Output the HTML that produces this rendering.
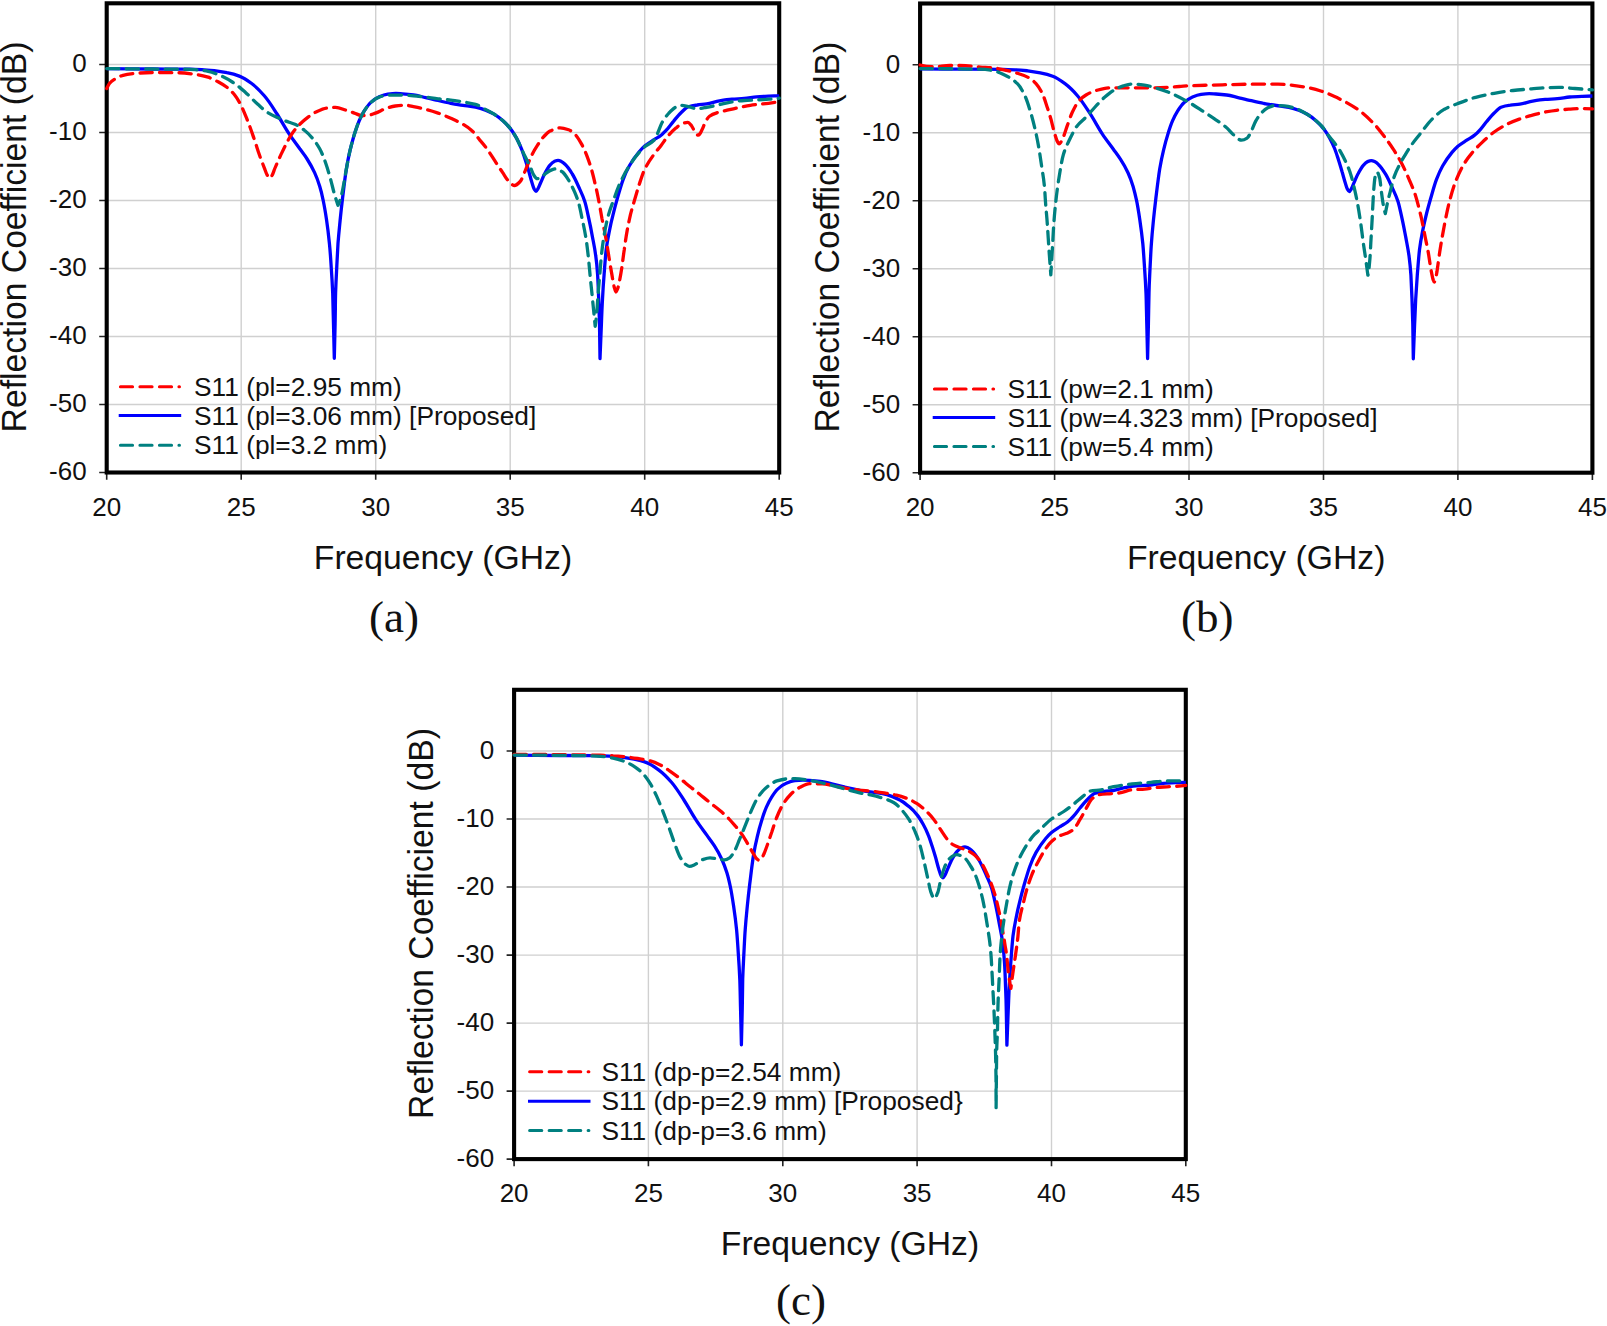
<!DOCTYPE html>
<html lang="en">
<head>
<meta charset="utf-8">
<title>Reflection coefficient parametric study</title>
<style>
html,body{margin:0;padding:0;background:#fff;}
body{width:1607px;height:1326px;overflow:hidden;}
svg{display:block;}
svg text{font-family:"Liberation Sans",sans-serif;fill:#111;}
svg text.cap{font-family:"Liberation Serif",serif;}
</style>
</head>
<body>
<svg width="1607" height="1326" viewBox="0 0 1607 1326">
<rect width="1607" height="1326" fill="#fff"/>
<g>
<path d="M241.2 3.3V472.5M375.7 3.3V472.5M510.2 3.3V472.5M644.7 3.3V472.5M106.7 64.5H779.2M106.7 132.5H779.2M106.7 200.5H779.2M106.7 268.5H779.2M106.7 336.5H779.2M106.7 404.5H779.2" stroke="#d0d0d0" stroke-width="1.4" fill="none"/>
<path d="M106.7 472.5V479.7M241.2 472.5V479.7M375.7 472.5V479.7M510.2 472.5V479.7M644.7 472.5V479.7M779.2 472.5V479.7M99.2 64.5H106.7M99.2 132.5H106.7M99.2 200.5H106.7M99.2 268.5H106.7M99.2 336.5H106.7M99.2 404.5H106.7M99.2 472.5H106.7" stroke="#222" stroke-width="1.6" fill="none"/>
<rect x="106.7" y="3.3" width="672.5" height="469.2" fill="none" stroke="#000" stroke-width="4.1"/>
<clipPath id="clipa"><rect x="104.7" y="1.2" width="676.6" height="473.3"/></clipPath>
<g clip-path="url(#clipa)" fill="none" stroke-width="3.3" stroke-linejoin="round">
<path d="M106.7 68.6C121.9 68.8 137.2 68.9 152.4 69C164.8 69.1 177.2 69 189.6 69.1C193.7 69.2 197.8 69.4 201.9 69.6C206.1 69.8 210.2 70.2 214.3 70.6C218.5 71.1 222.7 71.8 226.9 72.7C231.1 73.5 235.2 74.5 239.3 76.1C243.4 77.6 247.6 80.5 251.7 83.5C255.9 86.7 260.1 90.9 264.3 95.8C268.5 100.5 272.6 107.1 276.7 113.5C280.8 119.8 285 127.7 289.1 133.9C292.7 139.3 296.3 143.8 299.8 148.8C302.3 152.2 304.7 155.2 307.1 159C309.6 163 312.1 167.2 314.6 172.6C316.3 176.3 318 180.7 319.7 186.2C320.9 190 322.1 194.9 323.2 200.5C324.3 205.7 325.4 212.2 326.5 219.5C327.5 226.3 328.4 233.2 329.4 243.3C330.1 249.8 330.7 258.7 331.3 268.5C331.8 275.5 332.2 281.5 332.7 293C332.9 299.8 333.2 313.4 333.5 324.3C333.7 335.1 334 346.5 334.3 358.3C334.5 349.5 334.8 337.5 335.1 324.3C335.3 315.4 335.4 299.1 335.6 293C336 280.7 336.3 275.9 336.7 268.5C337.1 259.3 337.6 249.7 338 243.3C338.8 233.2 339.5 226.7 340.2 219.5C341 211.5 341.8 204.5 342.6 197.8C343.9 187.3 345.1 176.4 346.4 168.9C347.6 161.3 348.9 155.5 350.1 150.2C351.6 144.1 353 138.8 354.4 134.2C356.1 129 357.7 124.2 359.3 120.5C361 116.6 362.7 113.4 364.4 110.7C366.5 107.5 368.5 104.5 370.6 102.6C373.5 100 376.3 97.9 379.2 96.7C382.1 95.5 384.9 94.5 387.8 94.1C390.5 93.8 393.2 93.5 395.9 93.5C398.1 93.5 400.4 93.7 402.6 93.8C406.2 94 409.8 94.3 413.4 94.8C417.5 95.3 421.6 96.7 425.7 97.6C429.9 98.6 434 99.6 438.1 100.5C442.3 101.5 446.5 102.5 450.8 103.3C454.9 104 459 104.7 463.1 105.3C467.2 105.9 471.4 106.3 475.5 107.1C478.8 107.8 482.1 108.8 485.5 110.1C488.3 111.1 491.2 112.5 494.1 114.1C496.9 115.8 499.8 118 502.7 120.5C505.2 122.7 507.7 125.3 510.2 128.4C512.3 131 514.3 134.2 516.4 137.9C518.1 141 519.8 144.6 521.5 148.8C522.7 151.7 523.8 155.4 525 159C526.3 162.9 527.5 167 528.8 171.3C529.8 174.9 530.9 179.4 532 182.8C532.7 185.1 533.4 187.7 534.1 188.9C534.8 190 535.4 191.3 536 191.3C536.7 191.3 537.3 189.9 537.9 188.9C538.7 187.6 539.5 185.3 540.3 183.5C541.9 180.1 543.4 176.1 544.9 173.3C546.6 170.1 548.3 167 550 165.1C551.4 163.5 552.9 162 554.3 161.4C555.6 160.9 556.8 160.4 558.1 160.4C559.2 160.4 560.2 160.9 561.3 161.4C562.7 162 564 163.2 565.3 164.5C567.7 166.7 570 170.2 572.3 174C574.8 177.9 577.2 183.6 579.6 188.9C581.3 192.7 583 195.9 584.7 201.2C586.1 205.3 587.4 212 588.7 218.2C590 224 591.3 230.5 592.5 237.2C593.6 243 594.7 247.5 595.7 255.6C596.4 260.3 597 265.5 597.6 274.6C598 279.8 598.3 289.6 598.7 299.1C599 306.2 599.2 312.7 599.5 324.3C599.7 331.9 599.9 344.8 600 358.6C600.5 346.6 600.9 335.2 601.4 324.3C601.7 315.5 602.1 305.8 602.5 299.1C603 289.1 603.5 281.8 604.1 274.6C604.8 265.1 605.5 255.2 606.2 249.5C607.3 240.8 608.4 235.9 609.5 230.4C610.6 224.5 611.8 219.5 613 214.8C614.5 208.6 616 203.1 617.5 197.8C619.4 191.2 621.3 184.4 623.2 179.4C625.2 174 627.3 169.5 629.4 165.8C632.5 160.3 635.6 156 638.8 152.2C640.8 149.9 642.7 147.8 644.7 146.1C647.7 143.6 650.6 141.9 653.6 140C656.1 138.3 658.6 137.2 661.1 135.2C663.2 133.6 665.2 131.4 667.3 129.1C669.4 126.8 671.4 123.7 673.5 121.3C676 118.3 678.5 115.2 681 112.8C683.3 110.6 685.5 107.8 687.7 107C690.9 105.9 694 105.4 697.2 105C700.3 104.5 703.4 104.4 706.6 103.9C710.9 103.3 715.2 101.6 719.5 100.9C723.6 100.2 727.7 99.5 731.9 99.2C736 98.9 740.1 98.8 744.2 98.5C748.4 98.2 752.5 97.1 756.6 96.8C760.7 96.5 764.9 96.3 769 96.1C772.4 96 775.8 95.9 779.2 95.8" stroke="#00f"/>
<path d="M106.7 88.6C107.7 86.5 108.7 84.3 109.7 83.2C111.4 81.2 113.1 80.2 114.8 79.1C117.2 77.7 119.6 76.3 122 75.7C125.9 74.6 129.7 73.9 133.6 73.5C139.8 73 146 72.5 152.2 72.5C160.3 72.5 168.5 72.6 176.6 72.7C182.9 72.7 189.2 73.5 195.5 74.4C199.7 74.9 203.9 75.9 208.1 77.2C211.4 78.2 214.7 80.1 218.1 81.8C221 83.4 224 85.1 226.9 87.3C229.5 89.3 232 91.7 234.5 94.8C236.5 97.3 238.6 100.7 240.7 104.6C242.6 108.3 244.6 113.3 246.6 118.2C248.7 123.5 250.9 129.4 253 135.6C255.1 141.4 257.2 148.4 259.2 154.3C260.9 159.1 262.6 163.5 264.3 167.9C265.3 170.4 266.3 173.8 267.3 175.3C268.1 176.6 268.9 178.1 269.7 178.1C270.5 178.1 271.3 176.6 272.1 175.3C273 174 273.9 170.7 274.8 168.5C276.7 164 278.6 159.7 280.5 155.6C282.4 151.6 284.2 147.6 286.1 144.1C288.2 140.2 290.2 136.1 292.3 133.2C294.8 129.6 297.3 126.9 299.8 124.3C302.7 121.5 305.6 119 308.4 116.9C311.3 114.8 314.2 112.7 317.1 111.4C320.4 109.9 323.7 108.4 327 108C329.9 107.7 332.7 107.3 335.6 107.3C338.9 107.3 342.3 109 345.6 110.1C348.5 111 351.5 112.1 354.4 113.1C356.9 113.9 359.3 115.5 361.7 115.5C363.4 115.5 365.1 115.5 366.8 115.5C369.7 115.5 372.6 114.1 375.4 113.1C378.7 112 382.1 109.8 385.4 108.7C388.7 107.6 392 106.3 395.3 106C399 105.6 402.7 105.3 406.4 105.3C408.7 105.3 411 106.2 413.4 106.7C417.5 107.5 421.6 108.3 425.7 109.4C429.9 110.4 434 111.7 438.1 113.1C442.3 114.6 446.5 116.3 450.8 118.2C454.9 120.1 459 121.9 463.1 124.3C466 126 468.9 127.9 471.7 130.5C474.6 133 477.5 137.1 480.3 140.7C482.9 143.7 485.4 146.7 487.9 150.2C490.4 153.7 492.9 157.9 495.4 161.7C497.8 165.4 500.2 169.1 502.7 172.6C504.7 175.6 506.8 179.5 508.9 181.5C510.7 183.3 512.6 185.5 514.5 185.5C516.4 185.5 518.3 183.5 520.2 181.5C521.8 179.7 523.4 174.9 525 171.3C527.1 166.6 529.1 160.5 531.2 156.3C533.2 152.1 535.3 148.6 537.4 145.4C539.5 142.1 541.7 138.9 543.8 136.6C545.9 134.4 547.9 132.1 550 131.1C553.3 129.5 556.6 127.9 560 127.9C562.8 127.9 565.7 128.8 568.6 129.8C571 130.6 573.4 132.7 575.8 135.2C578 137.4 580.1 141.4 582.3 145.4C583.9 148.4 585.5 152.1 587.1 156.3C588.7 160.5 590.4 165.6 592 171.3C593.4 176.3 594.8 182.6 596.3 188.9C597.1 192.5 597.9 196.4 598.7 200.5C599.8 206 600.9 212.5 601.9 218.2C603.2 224.8 604.4 230.2 605.7 237.2C606.7 242.7 607.7 249.6 608.7 255.6C609.7 262.1 610.8 268.6 611.9 274.6C612.6 278.6 613.3 283.4 614 286.2C614.7 288.6 615.3 292 615.9 292C616.5 292 617.2 289.9 617.8 288.2C618.3 286.8 618.9 284 619.4 281.4C620.2 277.6 621 273 621.8 267.8C622.6 262.6 623.4 255.1 624.3 249.5C625.2 242.6 626.2 235.9 627.2 230.4C628.3 224.5 629.4 219.2 630.4 214.8C631.9 208.9 633.3 204.4 634.7 199.5C636.3 194.2 637.8 188.8 639.3 184.2C641.1 178.7 642.9 173 644.7 169.2C647.7 163.1 650.6 159.1 653.6 154.9C656.1 151.4 658.6 148.7 661.1 145.4C663.6 142.1 666.1 138.1 668.6 135.2C671.1 132.5 673.5 130.1 675.9 128.1C678 126.4 680 124.4 682.1 123.7C684 123 685.9 122.3 687.7 122.3C689 122.3 690.3 124.2 691.5 125.7C692.5 126.9 693.5 129.6 694.5 131.1C695.3 132.4 696.1 134 696.9 134.5C697.3 134.9 697.8 135.2 698.2 135.2C698.8 135.2 699.3 134.5 699.8 133.9C700.6 133 701.3 131.2 702 129.8C703.3 127.2 704.5 123.4 705.8 121.3C707 119.2 708.3 117.1 709.5 116.2C711.9 114.4 714.4 113.5 716.8 112.8C719.7 111.9 722.5 111.4 725.4 110.7C729.6 109.7 733.8 108.6 738 107.7C742.2 106.8 746.3 105.9 750.4 105.3C754.5 104.7 758.7 104.5 762.8 103.9C768.3 103.3 773.7 102.5 779.2 101.6" stroke="#f00" stroke-dasharray="12.2 7.3" stroke-linecap="round"/>
<path d="M106.7 68.6C121.9 68.7 137.2 68.9 152.4 69C164.8 69.1 177.2 69.1 189.6 69.3C192.4 69.3 195.3 69.7 198.2 69.9C201.5 70.3 204.8 70.7 208.1 71.3C212.3 72.1 216.5 73.9 220.8 75.7C224.9 77.4 229 79.8 233.1 82.5C237.3 85.1 241.4 88.8 245.5 92.4C249.7 96.1 253.9 100.9 258.1 104.6C261.5 107.6 264.8 110.7 268.1 112.8C271 114.6 273.8 115.9 276.7 117.2C280.8 119.1 285 120.8 289.1 122.3C291.1 123 293 123.5 295 124.3C298.2 125.7 301.5 127.9 304.7 130.5C307.2 132.4 309.7 135 312.2 137.9C314.7 140.9 317.2 144.2 319.7 148.8C321.8 152.6 323.9 157.9 325.9 163.8C327.5 168.4 329.2 174.3 330.8 180.1C332.2 185.2 333.6 191.7 335.1 196.4C336.1 199.7 337.1 202.6 338 205.3C338.8 204 339.5 202 340.2 199.8C341 197.3 341.8 193.7 342.6 190C343.9 184.1 345.1 175.5 346.4 168.9C347.6 162.3 348.9 155.5 350.1 150.2C351.6 144.1 353 138.8 354.4 134.2C356.1 129 357.7 124.2 359.3 120.5C361 116.6 362.7 113.4 364.4 110.7C366.5 107.5 368.5 104.4 370.6 102.6C373.5 100.1 376.3 98 379.2 97.1C382.5 96.1 385.8 95.1 389.1 95.1C393.3 95.1 397.4 95.1 401.5 95.1C405.5 95.1 409.4 95.5 413.4 95.8C417.5 96.1 421.6 96.6 425.7 97.1C429.9 97.6 434 98.4 438.1 98.8C442.3 99.3 446.5 99.6 450.8 100.1C454.9 100.5 459 101.2 463.1 101.9C467.2 102.6 471.4 103.2 475.5 104.4C478.8 105.4 482.1 107.6 485.5 109.4C488.3 110.9 491.2 112.3 494.1 114.1C496.9 116 499.8 118 502.7 120.5C505.2 122.7 507.7 125.3 510.2 128.4C512.3 131 514.3 134.2 516.4 137.9C518.1 141 519.8 145.2 521.5 148.8C522.7 151.3 523.8 153.9 525 156.3C526.7 159.8 528.4 162.8 530.1 166.5C531.4 169.2 532.6 173.6 533.9 175.3C535 176.9 536.2 178.7 537.4 178.7C539.1 178.7 540.8 177.1 542.5 176C545 174.5 547.5 171.6 550 170.6C552 169.8 554 168.9 555.9 168.9C558.1 168.9 560.2 170.4 562.4 171.9C564.4 173.4 566.5 176.8 568.6 180.1C570.6 183.4 572.7 187.6 574.8 192.3C576 195.2 577.3 198.3 578.5 202.5C579.7 206.5 580.9 212.7 582 218.2C583.3 224.1 584.5 229.5 585.8 237.2C586.6 242.2 587.4 248.5 588.2 255.6C589 262.7 589.8 272.6 590.6 280.7C591.3 287 591.9 292.9 592.5 299.1C593.1 305.3 593.8 311.8 594.4 318.1C594.7 320.9 594.9 323.6 595.2 326.3C595.7 323.1 596.3 317.9 596.8 312C597.3 307.1 597.7 298.7 598.2 293C598.7 286.2 599.2 280.9 599.8 274.6C600.3 268.4 600.9 260.6 601.4 255.6C602.2 248 603 242.2 603.8 237.2C605.1 229.5 606.3 223 607.6 218.2C609.6 210.2 611.7 205.2 613.8 199.5C616 193.2 618.2 187 620.5 182.1C623.7 175.2 626.9 169.4 630.2 164.5C633 160 635.9 156.2 638.8 152.9C640.8 150.6 642.7 148.4 644.7 146.8C647.7 144.3 650.6 143.8 653.6 140.7C654.8 139.3 656.1 136.4 657.3 133.9C659 130.6 660.6 125.1 662.2 122.3C664.3 118.5 666.5 115.8 668.6 113.5C670.7 111.2 672.8 108.8 674.8 107.7C676.9 106.6 679 105.3 681 105.3C683.4 105.3 685.9 106.2 688.3 106.7C691.2 107.3 694.2 108.7 697.2 108.7C700.3 108.7 703.4 107.9 706.6 107.3C710.9 106.6 715.2 105.5 719.5 104.6C723.6 103.7 727.7 102.5 731.9 101.9C736 101.3 740.1 100.8 744.2 100.5C748.4 100.2 752.5 100.1 756.6 99.9C760.7 99.6 764.9 99.5 769 99.2C772.4 98.9 775.8 98.6 779.2 98.2" stroke="#008080" stroke-dasharray="12.2 7.3" stroke-linecap="round"/>
</g>
<path d="M120.4 386.7H179.5" stroke="#f00" stroke-width="3.0" fill="none" stroke-dasharray="12.2 7.3" stroke-linecap="round"/>
<text x="194" y="395.7" font-size="26.3">S11 (pl=2.95 mm)</text>
<path d="M118.7 415.6H181.2" stroke="#00f" stroke-width="3.0" fill="none"/>
<text x="194" y="424.6" font-size="26.3">S11 (pl=3.06 mm) [Proposed]</text>
<path d="M120.4 445.3H179.5" stroke="#008080" stroke-width="3.0" fill="none" stroke-dasharray="12.2 7.3" stroke-linecap="round"/>
<text x="194" y="454.3" font-size="26.3">S11 (pl=3.2 mm)</text>
<text x="106.7" y="515.8" font-size="26" text-anchor="middle">20</text>
<text x="241.2" y="515.8" font-size="26" text-anchor="middle">25</text>
<text x="375.7" y="515.8" font-size="26" text-anchor="middle">30</text>
<text x="510.2" y="515.8" font-size="26" text-anchor="middle">35</text>
<text x="644.7" y="515.8" font-size="26" text-anchor="middle">40</text>
<text x="779.2" y="515.8" font-size="26" text-anchor="middle">45</text>
<text x="86.7" y="72.3" font-size="26" text-anchor="end">0</text>
<text x="86.7" y="140.3" font-size="26" text-anchor="end">-10</text>
<text x="86.7" y="208.3" font-size="26" text-anchor="end">-20</text>
<text x="86.7" y="276.3" font-size="26" text-anchor="end">-30</text>
<text x="86.7" y="344.3" font-size="26" text-anchor="end">-40</text>
<text x="86.7" y="412.3" font-size="26" text-anchor="end">-50</text>
<text x="86.7" y="480.3" font-size="26" text-anchor="end">-60</text>
<text x="443" y="568.7" font-size="33.7" text-anchor="middle">Frequency (GHz)</text>
<text transform="translate(25.8 237) rotate(-90) scale(1 1.04)" font-size="33.7" text-anchor="middle">Reflection Coefficient (dB)</text>
<text x="394" y="631.9" font-size="45" text-anchor="middle" class="cap">(a)</text>
</g>
<g>
<path d="M1054.6 3.5V472.7M1189 3.5V472.7M1323.5 3.5V472.7M1457.9 3.5V472.7M920.1 64.7H1592.4M920.1 132.7H1592.4M920.1 200.7H1592.4M920.1 268.7H1592.4M920.1 336.7H1592.4M920.1 404.7H1592.4" stroke="#d0d0d0" stroke-width="1.4" fill="none"/>
<path d="M920.1 472.7V479.9M1054.6 472.7V479.9M1189 472.7V479.9M1323.5 472.7V479.9M1457.9 472.7V479.9M1592.4 472.7V479.9M912.6 64.7H920.1M912.6 132.7H920.1M912.6 200.7H920.1M912.6 268.7H920.1M912.6 336.7H920.1M912.6 404.7H920.1M912.6 472.7H920.1" stroke="#222" stroke-width="1.6" fill="none"/>
<rect x="920.1" y="3.5" width="672.3" height="469.2" fill="none" stroke="#000" stroke-width="4.1"/>
<clipPath id="clipb"><rect x="918.1" y="1.5" width="676.4" height="473.3"/></clipPath>
<g clip-path="url(#clipb)" fill="none" stroke-width="3.3" stroke-linejoin="round">
<path d="M920.1 68.8C935.3 69 950.6 69.1 965.8 69.2C978.2 69.3 990.6 69.2 1002.9 69.3C1007.1 69.4 1011.2 69.6 1015.3 69.8C1019.4 70 1023.5 70.4 1027.7 70.8C1031.9 71.3 1036.1 72 1040.3 72.9C1044.4 73.7 1048.6 74.7 1052.7 76.3C1056.8 77.8 1060.9 80.7 1065 83.7C1069.3 86.9 1073.5 91.1 1077.7 96C1081.8 100.7 1085.9 107.3 1090.1 113.7C1094.2 120 1098.3 127.9 1102.4 134.1C1106 139.5 1109.6 144 1113.2 149C1115.6 152.4 1118 155.4 1120.4 159.2C1123 163.2 1125.5 167.4 1128 172.8C1129.7 176.5 1131.4 180.9 1133.1 186.4C1134.2 190.2 1135.4 195.1 1136.6 200.7C1137.7 205.9 1138.7 212.4 1139.8 219.7C1140.8 226.5 1141.8 233.4 1142.8 243.5C1143.4 250 1144 258.9 1144.6 268.7C1145.1 275.7 1145.5 281.7 1146 293.2C1146.3 300 1146.5 313.6 1146.8 324.5C1147.1 335.3 1147.3 346.7 1147.6 358.5C1147.9 349.7 1148.1 337.7 1148.4 324.5C1148.6 315.6 1148.8 299.3 1149 293.2C1149.3 280.9 1149.7 276.1 1150 268.7C1150.5 259.5 1150.9 249.9 1151.4 243.5C1152.1 233.4 1152.8 226.9 1153.5 219.7C1154.3 211.7 1155.1 204.7 1155.9 198C1157.2 187.5 1158.5 176.6 1159.7 169.1C1161 161.5 1162.2 155.7 1163.5 150.4C1164.9 144.3 1166.3 139 1167.8 134.4C1169.4 129.2 1171 124.4 1172.6 120.7C1174.3 116.8 1176 113.6 1177.7 110.9C1179.8 107.7 1181.8 104.7 1183.9 102.8C1186.8 100.2 1189.6 98.1 1192.5 96.9C1195.4 95.7 1198.3 94.7 1201.1 94.3C1203.8 94 1206.5 93.7 1209.2 93.7C1211.4 93.7 1213.7 93.9 1215.9 94C1219.5 94.2 1223.1 94.5 1226.7 95C1230.8 95.5 1234.9 96.9 1239 97.8C1243.2 98.8 1247.3 99.8 1251.4 100.7C1255.6 101.7 1259.8 102.7 1264 103.5C1268.2 104.2 1272.3 104.9 1276.4 105.5C1280.5 106.1 1284.7 106.5 1288.8 107.3C1292.1 108 1295.4 109 1298.7 110.3C1301.6 111.3 1304.5 112.7 1307.3 114.3C1310.2 116 1313.1 118.2 1316 120.7C1318.5 122.9 1321 125.5 1323.5 128.6C1325.5 131.2 1327.6 134.4 1329.7 138.1C1331.4 141.2 1333.1 144.8 1334.8 149C1335.9 151.9 1337.1 155.6 1338.3 159.2C1339.5 163.1 1340.8 167.2 1342 171.5C1343.1 175.1 1344.2 179.6 1345.3 183C1346 185.3 1346.7 187.9 1347.4 189.1C1348 190.2 1348.7 191.5 1349.3 191.5C1349.9 191.5 1350.6 190.1 1351.2 189.1C1352 187.8 1352.8 185.5 1353.6 183.7C1355.1 180.3 1356.6 176.3 1358.2 173.5C1359.9 170.3 1361.6 167.2 1363.3 165.3C1364.7 163.7 1366.1 162.2 1367.6 161.6C1368.8 161.1 1370.1 160.6 1371.3 160.6C1372.4 160.6 1373.5 161.1 1374.6 161.6C1375.9 162.2 1377.3 163.4 1378.6 164.7C1380.9 166.9 1383.3 170.4 1385.6 174.2C1388 178.1 1390.4 183.8 1392.9 189.1C1394.6 192.9 1396.3 196.1 1398 201.4C1399.3 205.5 1400.7 212.2 1402 218.4C1403.3 224.2 1404.5 230.7 1405.8 237.4C1406.8 243.2 1407.9 247.7 1409 255.8C1409.6 260.5 1410.3 265.7 1410.9 274.8C1411.2 280 1411.6 289.8 1412 299.3C1412.2 306.4 1412.5 312.9 1412.8 324.5C1412.9 332.1 1413.1 345 1413.3 358.8C1413.7 346.8 1414.2 335.4 1414.6 324.5C1415 315.7 1415.4 306 1415.7 299.3C1416.3 289.3 1416.8 282 1417.3 274.8C1418.1 265.3 1418.8 255.4 1419.5 249.7C1420.6 241 1421.6 236.1 1422.7 230.6C1423.9 224.7 1425 219.7 1426.2 215C1427.7 208.8 1429.3 203.3 1430.8 198C1432.7 191.4 1434.5 184.6 1436.4 179.6C1438.5 174.2 1440.5 169.7 1442.6 166C1445.7 160.5 1448.9 156.2 1452 152.4C1454 150.1 1456 148 1457.9 146.3C1460.9 143.8 1463.9 142.1 1466.8 140.2C1469.3 138.5 1471.8 137.4 1474.3 135.4C1476.4 133.8 1478.5 131.6 1480.5 129.3C1482.6 127 1484.7 123.9 1486.7 121.5C1489.2 118.5 1491.7 115.4 1494.2 113C1496.5 110.8 1498.7 108 1501 107.2C1504.1 106.1 1507.2 105.6 1510.4 105.2C1513.5 104.7 1516.7 104.6 1519.8 104.1C1524.1 103.5 1528.4 101.8 1532.7 101.1C1536.8 100.4 1540.9 99.7 1545.1 99.4C1549.2 99.1 1553.3 99 1557.4 98.7C1561.6 98.4 1565.7 97.3 1569.8 97C1573.9 96.7 1578.1 96.5 1582.2 96.3C1585.6 96.2 1589 96.1 1592.4 96" stroke="#00f"/>
<path d="M920.1 65C924.6 66 929.1 66.7 933.5 66.7C938.9 66.7 944.3 65.4 949.7 65.4C955.1 65.4 960.4 65.5 965.8 65.7C970.6 65.9 975.3 66.8 980.1 67.1C984.2 67.4 988.3 67.4 992.4 67.8C996.7 68.1 1000.9 69.2 1005.1 70.1C1009.2 71 1013.3 72 1017.4 73.3C1021.6 74.6 1025.7 75.9 1029.8 78.3C1031.9 79.5 1033.9 81.4 1036 83.7C1038.2 86.2 1040.3 89.5 1042.5 93.9C1044.1 97.2 1045.7 102.7 1047.3 107.5C1048.6 111.3 1049.8 115.3 1051.1 119.8C1052.2 123.9 1053.4 129.5 1054.6 133.4C1055.5 136.3 1056.4 139.5 1057.2 141.2C1057.9 142.4 1058.5 143.9 1059.1 143.9C1059.8 143.9 1060.4 142.8 1061 141.9C1061.7 140.9 1062.4 139.1 1063.2 137.5C1064.5 134.3 1065.9 129.6 1067.2 125.9C1068.9 121.2 1070.6 115.9 1072.3 112.3C1074.4 107.9 1076.4 103.8 1078.5 101.4C1081 98.5 1083.5 96.5 1086 95C1089.3 93 1092.7 91.4 1096 90.5C1101 89.2 1106 87.8 1111 87.8C1117.2 87.8 1123.4 87.8 1129.6 87.8C1137.8 87.8 1146.1 87.8 1154.3 87.8C1162.7 87.8 1171 87 1179.3 86.5C1182.6 86.3 1185.8 85.9 1189 85.8C1200.1 85.3 1211.3 85.1 1222.4 84.8C1234.7 84.5 1247.1 84.1 1259.5 84.1C1265.7 84.1 1271.8 84.1 1278 84.1C1284.2 84.1 1290.4 85 1296.6 85.8C1300.8 86.3 1305 87 1309.2 87.8C1313.4 88.7 1317.5 89.9 1321.6 91.2C1325.7 92.6 1329.8 94.4 1334 96.3C1338.1 98.1 1342.2 100.2 1346.3 102.4C1350.6 104.8 1354.8 107.2 1359 110.3C1364.2 114.1 1369.4 119 1374.6 124.5C1377.9 128.1 1381.2 132.4 1384.5 136.8C1387.5 140.7 1390.4 144.8 1393.4 149.4C1396.3 153.8 1399.1 158.5 1402 164C1404.5 168.8 1407 174.4 1409.5 180.3C1411.4 184.7 1413.3 188.9 1415.2 194.6C1417.2 200.8 1419.3 209.1 1421.4 218C1422.4 222.7 1423.5 228.6 1424.6 234C1425.8 240.3 1427.1 246 1428.4 253.1C1429.3 258.6 1430.3 266.3 1431.3 271.4C1431.9 274.2 1432.4 277.3 1432.9 278.9C1433.4 280.3 1433.8 282 1434.3 282C1434.7 282 1435.2 280.3 1435.6 278.9C1436.1 277.5 1436.5 274.1 1437 271.4C1438 264.9 1439.1 255.7 1440.2 249C1441.6 240 1443.1 231.8 1444.5 224.5C1446.1 216.2 1447.7 208.3 1449.3 202.1C1451.5 193.7 1453.6 186.5 1455.8 181C1458.7 173.7 1461.5 168 1464.4 163.3C1466.9 159.2 1469.4 156.1 1471.9 153.1C1475.2 149.1 1478.6 145.7 1481.9 142.6C1486 138.7 1490.1 134.9 1494.2 132C1498.4 129.1 1502.5 126.6 1506.6 124.5C1510.8 122.4 1515 120.6 1519.3 119.1C1523.4 117.6 1527.5 116.5 1531.6 115.4C1535.7 114.2 1539.9 113.1 1544 112.3C1548.1 111.5 1552.2 110.7 1556.4 110.3C1560.5 109.8 1564.6 109.5 1568.7 109.2C1572.9 109 1577 108.6 1581.1 108.6C1584.9 108.6 1588.6 108.6 1592.4 108.9" stroke="#f00" stroke-dasharray="12.2 7.3" stroke-linecap="round"/>
<path d="M920.1 68.6C940.1 68.6 960.1 68.8 980.1 69.2C984.2 69.3 988.3 69.8 992.4 70.5C996.7 71.2 1000.9 73.2 1005.1 75.2C1009.2 77.2 1013.3 79.6 1017.4 83.7C1020 86.2 1022.5 90.7 1025 96C1026.6 99.4 1028.2 104.4 1029.8 109.6C1031.5 115 1033.2 121.4 1034.9 128.6C1036.2 134 1037.4 139.9 1038.7 147C1039.7 152.6 1040.7 160 1041.7 166.7C1042.5 172.7 1043.4 176.3 1044.3 185.1C1044.7 188.6 1045.1 195.9 1045.4 200.7C1046 209.1 1046.7 215.3 1047.3 223.8C1047.8 231.1 1048.4 240.4 1048.9 248.3C1049.5 257.5 1050.2 266.3 1050.8 274.8C1051.3 266.5 1051.9 257.6 1052.4 248.3C1052.9 240.5 1053.3 230 1053.8 223.8C1054.5 213.9 1055.2 207.1 1055.9 200.7C1056.8 192.7 1057.7 186 1058.6 180.3C1060.2 170 1061.8 159.9 1063.4 154.5C1065.5 147.5 1067.6 143.8 1069.6 139.5C1072.1 134.3 1074.6 129.1 1077.1 125.9C1080.1 122.1 1083.1 120.2 1086 117.1C1088.9 114.1 1091.8 110.6 1094.6 107.5C1097.9 104 1101.3 100.2 1104.6 97.3C1107.9 94.5 1111.2 91.7 1114.5 89.9C1117.5 88.2 1120.4 86.6 1123.4 85.8C1126.3 85 1129.1 84.1 1132 84.1C1136.1 84.1 1140.3 84.6 1144.4 85.1C1148.5 85.6 1152.6 87 1156.7 88.2C1161 89.4 1165.2 90.9 1169.4 92.6C1175.9 95.2 1182.5 98.8 1189 102.4C1193.9 105.2 1198.7 108.5 1203.5 111.6C1207.7 114.3 1211.8 116.9 1215.9 119.8C1219.3 122.1 1222.7 124.3 1226.1 127.3C1228.6 129.4 1231 132.8 1233.4 134.7C1236.1 136.9 1238.8 140.2 1241.5 140.2C1243.3 140.2 1245.2 139.3 1247.1 138.1C1248.4 137.4 1249.6 134.4 1250.9 132C1252.5 129 1254.1 124 1255.7 121.1C1257.4 118.1 1259.1 115.5 1260.8 113.7C1262.9 111.4 1264.9 109.2 1267 108.2C1269.9 106.9 1272.7 105.5 1275.6 105.5C1278.6 105.5 1281.5 105.7 1284.5 105.8C1288.5 106.1 1292.6 107.5 1296.6 108.9C1300.8 110.3 1305 113 1309.2 115.7C1313.4 118.4 1317.5 121.5 1321.6 125.9C1323.7 128.1 1325.7 132 1327.8 134.7C1329.8 137.4 1331.9 139.5 1334 142.2C1336 144.9 1338.1 147.7 1340.2 151.1C1342 154.2 1343.9 157.8 1345.8 161.9C1347.5 165.7 1349.2 169.5 1350.9 174.9C1352.2 178.8 1353.4 184.3 1354.7 189.8C1355.8 194.5 1356.8 199.5 1357.9 205.5C1358.9 210.9 1359.9 217.6 1360.9 224.5C1361.7 230.1 1362.5 237.1 1363.3 242.9C1364.2 249.3 1365.1 254.8 1366 261.2C1366.6 265.7 1367.2 270.4 1367.9 275.2C1368.5 274.4 1369.1 267.9 1369.7 261.2C1370.1 257.4 1370.5 249.2 1370.8 242.9C1371.3 235 1371.7 226.7 1372.2 218.4C1372.6 210.1 1373.1 199.2 1373.5 193.2C1374 186.1 1374.6 179.1 1375.1 176.9C1375.7 174.3 1376.4 172.1 1377 172.1C1377.9 172.1 1378.8 175 1379.7 178.3C1380.3 180.6 1380.9 188.7 1381.6 193.2C1382.2 197.7 1382.8 202.2 1383.4 205.5C1384.1 208.7 1384.7 211.6 1385.3 213.6C1386 210.2 1386.6 207 1387.2 204.1C1388.2 199.6 1389.2 195.7 1390.2 191.9C1391.6 186.2 1393 179.9 1394.5 175.9C1396.2 171.1 1397.9 168 1399.6 164.7C1401.6 160.6 1403.7 157.2 1405.8 153.8C1407.8 150.4 1409.9 147.1 1412 144.3C1414.5 140.8 1417 137.9 1419.5 134.7C1423.7 129.5 1427.9 123.2 1432.1 119.1C1436.2 115.1 1440.4 111.6 1444.5 109.2C1449 106.7 1453.5 105.2 1457.9 103.5C1463.9 101.2 1469.8 98.9 1475.7 97.3C1481.9 95.7 1488.1 94.3 1494.2 93.3C1500.5 92.2 1506.8 91.2 1513.1 90.5C1519.3 89.8 1525.4 89.4 1531.6 88.8C1535.7 88.5 1539.9 88 1544 87.8C1548.9 87.6 1553.9 87.3 1558.8 87.3C1564.2 87.3 1569.5 88.1 1574.9 88.5C1580.7 88.9 1586.6 89.4 1592.4 89.9" stroke="#008080" stroke-dasharray="12.2 7.3" stroke-linecap="round"/>
</g>
<path d="M934.4 388.9H993.6" stroke="#f00" stroke-width="3.0" fill="none" stroke-dasharray="12.2 7.3" stroke-linecap="round"/>
<text x="1007.4" y="397.9" font-size="26.3">S11 (pw=2.1 mm)</text>
<path d="M932.7 417.6H995.2" stroke="#00f" stroke-width="3.0" fill="none"/>
<text x="1007.4" y="426.6" font-size="26.3">S11 (pw=4.323 mm) [Proposed]</text>
<path d="M934.4 446.5H993.6" stroke="#008080" stroke-width="3.0" fill="none" stroke-dasharray="12.2 7.3" stroke-linecap="round"/>
<text x="1007.4" y="455.5" font-size="26.3">S11 (pw=5.4 mm)</text>
<text x="920.1" y="516" font-size="26" text-anchor="middle">20</text>
<text x="1054.6" y="516" font-size="26" text-anchor="middle">25</text>
<text x="1189" y="516" font-size="26" text-anchor="middle">30</text>
<text x="1323.5" y="516" font-size="26" text-anchor="middle">35</text>
<text x="1457.9" y="516" font-size="26" text-anchor="middle">40</text>
<text x="1592.4" y="516" font-size="26" text-anchor="middle">45</text>
<text x="900.1" y="72.5" font-size="26" text-anchor="end">0</text>
<text x="900.1" y="140.5" font-size="26" text-anchor="end">-10</text>
<text x="900.1" y="208.5" font-size="26" text-anchor="end">-20</text>
<text x="900.1" y="276.5" font-size="26" text-anchor="end">-30</text>
<text x="900.1" y="344.5" font-size="26" text-anchor="end">-40</text>
<text x="900.1" y="412.5" font-size="26" text-anchor="end">-50</text>
<text x="900.1" y="480.5" font-size="26" text-anchor="end">-60</text>
<text x="1256.2" y="568.9" font-size="33.7" text-anchor="middle">Frequency (GHz)</text>
<text transform="translate(839.2 237.2) rotate(-90) scale(1 1.04)" font-size="33.7" text-anchor="middle">Reflection Coefficient (dB)</text>
<text x="1207.2" y="631.6" font-size="45" text-anchor="middle" class="cap">(b)</text>
</g>
<g>
<path d="M648.4 689.8V1159.1M782.8 689.8V1159.1M917.1 689.8V1159.1M1051.5 689.8V1159.1M514.1 751H1185.8M514.1 819H1185.8M514.1 887H1185.8M514.1 955.1H1185.8M514.1 1023.1H1185.8M514.1 1091.1H1185.8" stroke="#d0d0d0" stroke-width="1.4" fill="none"/>
<path d="M514.1 1159.1V1166.3M648.4 1159.1V1166.3M782.8 1159.1V1166.3M917.1 1159.1V1166.3M1051.5 1159.1V1166.3M1185.8 1159.1V1166.3M506.6 751H514.1M506.6 819H514.1M506.6 887H514.1M506.6 955.1H514.1M506.6 1023.1H514.1M506.6 1091.1H514.1M506.6 1159.1H514.1" stroke="#222" stroke-width="1.6" fill="none"/>
<rect x="514.1" y="689.8" width="671.7" height="469.3" fill="none" stroke="#000" stroke-width="4.1"/>
<clipPath id="clipc"><rect x="512.1" y="687.8" width="675.8" height="473.4"/></clipPath>
<g clip-path="url(#clipc)" fill="none" stroke-width="3.3" stroke-linejoin="round">
<path d="M514.1 755.1C529.3 755.3 544.6 755.4 559.8 755.5C572.1 755.6 584.5 755.5 596.9 755.6C601 755.7 605.1 755.9 609.2 756.1C613.3 756.3 617.5 756.7 621.6 757.1C625.8 757.6 630 758.3 634.2 759.2C638.3 760 642.4 761 646.6 762.6C650.7 764.1 654.8 767 658.9 770.1C663.1 773.2 667.3 777.4 671.5 782.3C675.7 787.1 679.8 793.7 683.9 800C688 806.3 692.1 814.2 696.3 820.4C699.8 825.8 703.4 830.3 707 835.4C709.4 838.7 711.8 841.7 714.3 845.6C716.8 849.5 719.3 853.7 721.8 859.2C723.5 862.9 725.2 867.2 726.9 872.8C728.1 876.6 729.2 881.4 730.4 887C731.5 892.2 732.5 898.7 733.6 906.1C734.6 912.8 735.6 919.8 736.6 929.9C737.2 936.3 737.8 945.3 738.4 955.1C738.9 962 739.3 968.1 739.8 979.5C740.1 986.4 740.3 1000 740.6 1010.8C740.9 1021.7 741.1 1033 741.4 1044.8C741.7 1036.1 741.9 1024.1 742.2 1010.8C742.4 1002 742.6 985.7 742.7 979.5C743.1 967.2 743.5 962.4 743.8 955.1C744.3 945.8 744.7 936.3 745.2 929.9C745.9 919.7 746.6 913.2 747.3 906.1C748.1 898.1 748.9 891 749.7 884.3C751 873.9 752.2 863 753.5 855.4C754.7 847.8 756 842.1 757.3 836.7C758.7 830.6 760.1 825.3 761.6 820.7C763.2 815.5 764.8 810.7 766.4 807.1C768.1 803.2 769.8 799.9 771.5 797.3C773.6 794 775.6 791 777.7 789.1C780.5 786.5 783.4 784.4 786.3 783.3C789.1 782.1 792 781 794.9 780.7C797.6 780.3 800.2 780.1 802.9 780.1C805.2 780.1 807.4 780.2 809.6 780.3C813.2 780.5 816.8 780.8 820.4 781.3C824.5 781.8 828.6 783.2 832.8 784.1C836.9 785.1 841 786.1 845.1 787.1C849.3 788 853.5 789 857.7 789.8C861.9 790.6 866 791.2 870.1 791.8C874.2 792.5 878.3 792.8 882.5 793.7C885.8 794.3 889.1 795.4 892.4 796.6C895.3 797.6 898.1 799 901 800.7C903.9 802.3 906.7 804.6 909.6 807.1C912.1 809.2 914.6 811.8 917.1 814.9C919.2 817.5 921.2 820.8 923.3 824.5C925 827.5 926.7 831.1 928.4 835.4C929.6 838.2 930.7 842 931.9 845.6C933.2 849.4 934.4 853.5 935.7 857.8C936.7 861.5 937.8 866 938.9 869.4C939.6 871.6 940.3 874.2 941 875.5C941.7 876.6 942.3 877.9 942.9 877.9C943.5 877.9 944.2 876.5 944.8 875.5C945.6 874.2 946.4 871.8 947.2 870C948.7 866.6 950.3 862.7 951.8 859.8C953.5 856.7 955.2 853.6 956.9 851.7C958.3 850.1 959.8 848.5 961.2 847.9C962.4 847.4 963.7 846.9 964.9 846.9C966 846.9 967.1 847.5 968.2 847.9C969.5 848.5 970.9 849.7 972.2 851C974.5 853.2 976.9 856.7 979.2 860.5C981.6 864.5 984 870.1 986.4 875.5C988.1 879.3 989.8 882.5 991.5 887.7C992.9 891.9 994.2 898.5 995.6 904.7C996.8 910.5 998.1 917 999.3 923.8C1000.4 929.5 1001.5 934.1 1002.6 942.1C1003.2 946.8 1003.8 952.1 1004.4 961.2C1004.8 966.4 1005.2 976.2 1005.5 985.7C1005.8 992.8 1006.1 999.3 1006.3 1010.8C1006.5 1018.5 1006.7 1031.4 1006.9 1045.2C1007.3 1033.2 1007.8 1021.8 1008.2 1010.8C1008.6 1002.1 1008.9 992.4 1009.3 985.7C1009.8 975.6 1010.4 968.3 1010.9 961.2C1011.6 951.6 1012.3 941.8 1013 936C1014.1 927.4 1015.2 922.5 1016.3 917C1017.4 911 1018.6 906.1 1019.8 901.3C1021.3 895.1 1022.8 889.6 1024.3 884.3C1026.2 877.8 1028.1 870.9 1030 866C1032 860.5 1034.1 856 1036.1 852.4C1039.3 846.8 1042.4 842.5 1045.5 838.8C1047.5 836.4 1049.5 834.3 1051.5 832.6C1054.4 830.1 1057.4 828.5 1060.3 826.5C1062.8 824.9 1065.3 823.7 1067.8 821.7C1069.9 820.1 1072 817.9 1074 815.6C1076.1 813.3 1078.1 810.3 1080.2 807.8C1082.7 804.8 1085.2 801.7 1087.7 799.3C1090 797.1 1092.2 794.3 1094.4 793.5C1097.6 792.4 1100.7 791.9 1103.9 791.5C1107 791 1110.1 790.9 1113.3 790.5C1117.6 789.8 1121.9 788.1 1126.2 787.4C1130.3 786.7 1134.4 786 1138.5 785.7C1142.6 785.4 1146.8 785.3 1150.9 785C1155 784.7 1159.1 783.6 1163.2 783.3C1167.4 783 1171.5 782.8 1175.6 782.6C1179 782.5 1182.4 782.4 1185.8 782.3" stroke="#00f"/>
<path d="M514.1 754.4C542.9 754.4 571.8 754.7 600.6 755.2C604.7 755.3 608.9 755.5 613 755.8C617.2 756 621.4 756.4 625.6 756.9C629.6 757.3 633.7 757.9 637.7 758.5C641.9 759.2 646.1 759.8 650.3 760.9C653.6 761.8 656.9 763.3 660.3 765C663.5 766.6 666.7 768.9 669.9 771.1C673.3 773.5 676.7 776 680.1 778.6C683.5 781.2 686.8 784.1 690.1 786.7C693.4 789.4 696.7 791.9 700 794.5C703.3 797.2 706.7 800.1 710 802.7C713.2 805.3 716.4 807.5 719.6 810.2C722.6 812.7 725.6 815.3 728.5 818.3C730.9 820.8 733.3 823.6 735.8 826.5C738.3 829.6 740.8 832.7 743.3 836.4C745.3 839.5 747.4 843.4 749.5 846.9C751 849.5 752.5 852.3 754 854.7C754.9 856.2 755.8 858 756.7 858.8C757.4 859.4 758.2 860.2 758.9 860.2C759.6 860.2 760.3 859.5 761 858.8C761.8 858.1 762.6 856.6 763.4 855.1C764.8 852.5 766.1 848.2 767.5 844.5C768.9 840.6 770.3 836.1 771.8 832C773.5 827 775.2 821.1 776.9 817C778.8 812.2 780.8 807.9 782.8 804.7C785.4 800.5 788 797.1 790.6 794.5C793.7 791.5 796.8 788.9 800 787.3C803.2 785.7 806.4 783.7 809.6 783.7C813.9 783.7 818.1 783.7 822.3 783.9C826.4 784 830.5 785.3 834.6 786.1C838.8 786.9 842.9 787.8 847 788.4C851.1 789.1 855.2 789.6 859.4 790.1C863.5 790.5 867.6 790.7 871.7 791.1C875.8 791.6 880 792.2 884.1 792.9C888.2 793.6 892.3 794.2 896.4 795.2C900.6 796.2 904.9 797.6 909.1 799.3C911.7 800.4 914.4 802 917.1 803.7C920 805.6 922.9 808 925.7 810.6C928.2 812.9 930.7 815.6 933.2 818.7C935.7 821.8 938.3 826.2 940.8 829.9C942.8 832.9 944.9 836.4 946.9 838.8C949.1 841.2 951.2 843.6 953.4 844.9C955.5 846.1 957.5 846.8 959.6 847.6C962.1 848.6 964.6 849.2 967.1 850.3C969.5 851.4 971.9 852.8 974.3 854.7C976.5 856.4 978.6 858.9 980.8 861.9C982.4 864.1 984 867.5 985.6 870.7C987.3 874.2 989 877.9 990.7 882.3C992 885.5 993.2 889 994.5 893.2C995.7 897 996.8 901.8 998 906.8C998.9 910.6 999.8 914.7 1000.7 919.3C1001.5 923.5 1002.3 928.5 1003.1 933.3C1003.7 937 1004.4 940.9 1005 944.9C1005.5 948.2 1006.1 951 1006.6 955.1C1007.2 959.8 1007.8 968.6 1008.5 973.4C1009.3 979.6 1010.1 985 1010.9 988.4C1011.5 983.1 1012.1 978.1 1012.8 973.4C1013.7 966.8 1014.6 961.5 1015.5 955.1C1016.3 949.3 1017.1 944.1 1017.9 936.7C1018.3 932.6 1018.8 924.8 1019.2 921.7C1020.5 913 1021.7 909.7 1023 904.5C1024.2 899.2 1025.5 894 1026.7 889.8C1028.4 884 1030.1 879 1031.8 874.8C1033.9 869.7 1036 865.8 1038 861.9C1040.1 857.9 1042.1 854.1 1044.2 851C1046.6 847.3 1049 843.7 1051.5 841.5C1054.1 839.1 1056.7 837.3 1059.3 836C1061.8 834.8 1064.3 834.4 1066.8 833.3C1068.8 832.4 1070.9 831.5 1073 829.9C1075.3 828.1 1077.6 823.5 1079.9 819.7C1082 816.4 1084.1 812 1086.1 808.5C1088.2 805 1090.2 800.4 1092.3 798.6C1094.4 796.8 1096.6 795.2 1098.7 794.8C1101.6 794.3 1104.5 794.1 1107.3 793.9C1111.5 793.5 1115.6 793.4 1119.7 792.9C1123.8 792.4 1127.9 790.1 1132.1 789.8C1136.3 789.4 1140.5 789.4 1144.7 789.1C1148.8 788.8 1152.9 787.6 1157.1 787.3C1161.2 787 1165.3 787 1169.4 786.7C1174.9 786.4 1180.3 786 1185.8 785.4" stroke="#f00" stroke-dasharray="12.2 7.3" stroke-linecap="round"/>
<path d="M514.1 755.1C536.5 755.1 558.9 755.3 581.3 755.6C587.7 755.7 594.2 755.9 600.6 756.3C604.7 756.5 608.9 757.3 613 758.1C617.2 758.9 621.4 760.2 625.6 761.9C628.9 763.2 632.2 765.1 635.5 767.3C638 769 640.4 770.9 642.8 773.5C645.3 776.1 647.8 779.6 650.3 783.7C652.4 787 654.4 791.4 656.5 795.9C658.6 800.4 660.6 805.7 662.7 810.9C664.7 816.1 666.8 821.6 668.9 827.2C670.9 832.8 673 839.1 675 844.5C676.7 849 678.4 854.1 680.1 857.1C681.8 860 683.4 862.6 685 863.9C686.4 865 687.8 866.3 689.3 866.3C691.2 866.3 693 865.4 694.9 864.6C697.3 863.6 699.8 860.7 702.2 859.8C704.8 858.9 707.4 857.8 710 857.8C712.4 857.8 714.8 858.5 717.2 858.8C719.7 859.2 722.2 859.8 724.7 859.8C726.4 859.8 728 858.8 729.6 857.8C731.3 856.7 733 853.7 734.7 850.7C736.3 847.9 737.9 843.2 739.5 839.4C741.2 835.4 742.9 831.4 744.6 827.2C746.2 823.2 747.9 818.8 749.5 814.9C751.2 810.9 752.9 806.6 754.6 803.4C756.6 799.5 758.7 796.1 760.7 793.5C763.3 790.4 765.8 787.9 768.3 786C771.1 783.9 774 781.8 776.9 780.9C780.2 779.9 783.5 779.1 786.8 778.9C789.5 778.7 792.2 778.6 794.9 778.6C799.8 778.6 804.7 779.7 809.6 780.5C813.9 781.1 818.1 782 822.3 783C826.4 783.9 830.5 785 834.6 786.1C838.8 787.2 842.9 788.4 847 789.6C851.1 790.7 855.2 792 859.4 792.9C863.5 793.8 867.6 794.3 871.7 795.2C875.8 796.1 880 797.3 884.1 798.6C887.4 799.7 890.7 800.8 894 802.7C896.9 804.4 899.7 807.6 902.6 810.9C904.8 813.3 906.9 816.2 909.1 819.7C911.1 823.1 913.2 827.1 915.2 832C916.9 835.7 918.5 840.2 920.1 845.6C921.3 849.7 922.6 855.2 923.8 860.5C925.1 865.8 926.3 871.9 927.6 877.5C928.7 882.3 929.7 888.9 930.8 891.8C932 895 933.2 898.6 934.3 898.6C935.5 898.6 936.6 895.4 937.8 892.5C938.8 890 939.8 883.3 940.8 879.6C942 874.9 943.3 870.2 944.5 867.3C946.2 863.4 947.9 859.9 949.6 858.5C952 856.5 954.5 854.7 956.9 854.7C959.4 854.7 961.9 856.2 964.4 857.8C966.5 859.1 968.5 862.7 970.6 866C972.3 868.6 974 871.8 975.7 875.8C976.9 878.8 978.2 882.8 979.5 887C980.5 890.6 981.6 894.5 982.7 899.3C983.5 902.9 984.3 907.4 985.1 911.9C985.9 916.5 986.7 921.6 987.5 926.8C988.2 931.5 988.9 935.5 989.7 941.5C990.1 945.2 990.6 949.2 991 955.1C991.5 960.9 991.9 971.3 992.4 979.5C992.8 987.8 993.2 995.3 993.7 1004.7C994.1 1012.2 994.4 1020.3 994.8 1029.9C995 1037 995.3 1043.3 995.6 1054.4C995.7 1059.9 995.8 1063.8 996 1077.5C996 1082 996.1 1096 996.1 1108.1C996.2 1096.6 996.3 1086.3 996.4 1077.5C996.5 1068.7 996.6 1058.7 996.6 1054.4C996.9 1041.2 997.2 1039.9 997.5 1029.9C997.6 1023.2 997.8 1010.5 998 1004.7C998.4 993.1 998.7 987.8 999.1 979.5C999.4 971.3 999.8 960.6 1000.1 955.1C1000.7 946.7 1001.2 941.6 1001.8 936.7C1002.6 928.5 1003.5 923 1004.4 917C1005.2 911.6 1006.1 906.5 1006.9 902C1007.9 896 1009 890.2 1010.1 885.7C1011.5 879.7 1012.9 874.9 1014.4 870.7C1016.4 864.8 1018.5 860 1020.6 855.8C1022.6 851.6 1024.7 848 1026.7 844.9C1029.2 841 1031.8 837.4 1034.3 834.7C1036.8 832 1039.3 830.1 1041.8 827.9C1045 824.9 1048.2 821.4 1051.5 819C1055.6 816 1059.7 814.3 1063.8 811.5C1067.1 809.3 1070.4 806.7 1073.8 804.1C1076.7 801.7 1079.7 798.9 1082.6 796.6C1085 794.7 1087.5 791.7 1089.9 791.1C1093.6 790.3 1097.4 790.4 1101.2 789.8C1105.3 789.1 1109.4 787.5 1113.5 786.7C1119.7 785.5 1125.9 784.5 1132.1 783.9C1138.3 783.2 1144.6 782.8 1150.9 782.3C1157.1 781.8 1163.2 780.9 1169.4 780.9C1174.9 780.9 1180.3 780.9 1185.8 780.9" stroke="#008080" stroke-dasharray="12.2 7.3" stroke-linecap="round"/>
</g>
<path d="M529.6 1071.7H588.9" stroke="#f00" stroke-width="3.0" fill="none" stroke-dasharray="12.2 7.3" stroke-linecap="round"/>
<text x="601.4" y="1080.7" font-size="26.3">S11 (dp-p=2.54 mm)</text>
<path d="M528 1101.3H590.5" stroke="#00f" stroke-width="3.0" fill="none"/>
<text x="601.4" y="1110.3" font-size="26.3">S11 (dp-p=2.9 mm) [Proposed}</text>
<path d="M529.6 1130.5H588.9" stroke="#008080" stroke-width="3.0" fill="none" stroke-dasharray="12.2 7.3" stroke-linecap="round"/>
<text x="601.4" y="1139.5" font-size="26.3">S11 (dp-p=3.6 mm)</text>
<text x="514.1" y="1202.3" font-size="26" text-anchor="middle">20</text>
<text x="648.4" y="1202.3" font-size="26" text-anchor="middle">25</text>
<text x="782.8" y="1202.3" font-size="26" text-anchor="middle">30</text>
<text x="917.1" y="1202.3" font-size="26" text-anchor="middle">35</text>
<text x="1051.5" y="1202.3" font-size="26" text-anchor="middle">40</text>
<text x="1185.8" y="1202.3" font-size="26" text-anchor="middle">45</text>
<text x="494.1" y="758.8" font-size="26" text-anchor="end">0</text>
<text x="494.1" y="826.8" font-size="26" text-anchor="end">-10</text>
<text x="494.1" y="894.8" font-size="26" text-anchor="end">-20</text>
<text x="494.1" y="962.9" font-size="26" text-anchor="end">-30</text>
<text x="494.1" y="1030.9" font-size="26" text-anchor="end">-40</text>
<text x="494.1" y="1098.9" font-size="26" text-anchor="end">-50</text>
<text x="494.1" y="1166.9" font-size="26" text-anchor="end">-60</text>
<text x="850" y="1255.2" font-size="33.7" text-anchor="middle">Frequency (GHz)</text>
<text transform="translate(433.2 923.5) rotate(-90) scale(1 1.04)" font-size="33.7" text-anchor="middle">Reflection Coefficient (dB)</text>
<text x="801" y="1315.4" font-size="45" text-anchor="middle" class="cap">(c)</text>
</g>
</svg>
</body>
</html>
